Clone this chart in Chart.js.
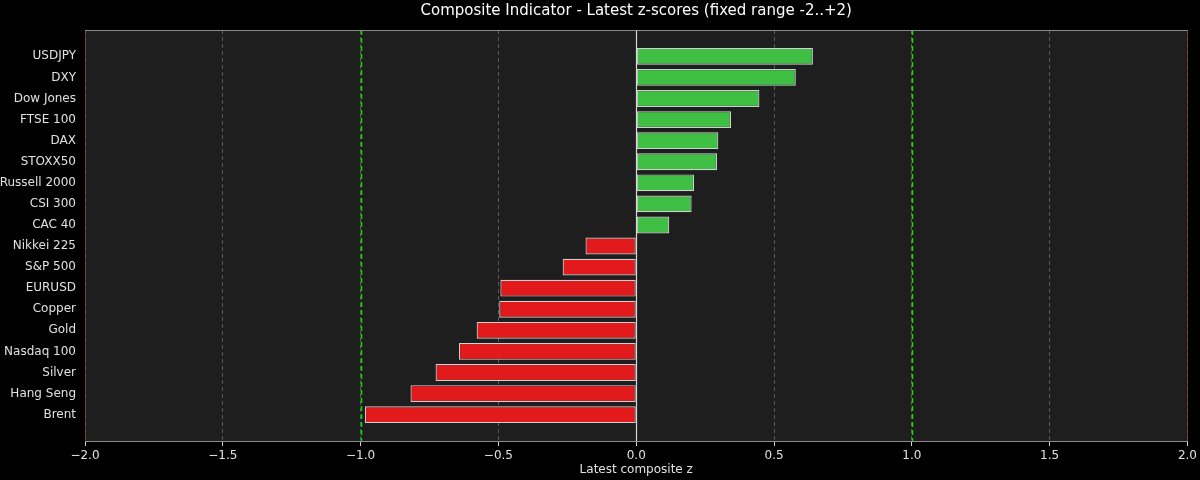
<!DOCTYPE html>
<html>
<head>
<meta charset="utf-8">
<script src="https://cdn.jsdelivr.net/npm/chart.js@4.4.1/dist/chart.umd.min.js"></script>
<style>
  html, body { margin: 0; padding: 0; background: #000; }
  #wrap { width: 1200px; height: 480px; }
</style>
</head>
<body>
<div id="wrap"><canvas id="chart" width="1200" height="480"></canvas></div>
<script>
const categories = ["USDJPY", "DXY", "Dow Jones", "FTSE 100", "DAX", "STOXX50", "Russell 2000", "CSI 300", "CAC 40",
  "Nikkei 225", "S&P 500", "EURUSD", "Copper", "Gold", "Nasdaq 100", "Silver", "Hang Seng", "Brent"];
const zScores = [0.641, 0.579, 0.447, 0.344, 0.298, 0.293, 0.21, 0.201, 0.12,
  -0.184, -0.267, -0.493, -0.497, -0.579, -0.643, -0.728, -0.819, -0.984];
const xTicks = [-2, -1.5, -1, -0.5, 0, 0.5, 1, 1.5, 2];
const bandLines = [-1, 1];
const chartTitle = "Composite Indicator - Latest z-scores (fixed range -2..+2)";

const FONT = "'DejaVu Sans', sans-serif";

const backdrop = {
  id: "backdrop",
  beforeDraw(chart) {
    const { ctx, chartArea: a } = chart;
    ctx.save();
    ctx.fillStyle = "#000";
    ctx.fillRect(0, 0, chart.width, chart.height);
    ctx.fillStyle = "#1e1e1e";
    ctx.fillRect(a.left, a.top, a.right - a.left, a.bottom - a.top);
    ctx.restore();
  },
  afterDraw(chart) {
    const { ctx, chartArea: a, scales } = chart;
    const x = scales.x;
    ctx.save();
    // threshold lines
    ctx.strokeStyle = "#00e000";
    ctx.lineWidth = 1.5;
    ctx.setLineDash([5, 3]);
    bandLines.forEach((v) => {
      const px = Math.round(x.getPixelForValue(v)) + 0.5;
      ctx.beginPath();
      ctx.moveTo(px, a.top);
      ctx.lineTo(px, a.bottom);
      ctx.stroke();
    });
    // zero line
    ctx.setLineDash([]);
    ctx.strokeStyle = "#d8d8d8";
    ctx.lineWidth = 1.2;
    const z = Math.round(x.getPixelForValue(0)) + 0.5;
    ctx.beginPath();
    ctx.moveTo(z, a.top);
    ctx.lineTo(z, a.bottom);
    ctx.stroke();
    // frame
    ctx.lineWidth = 1;
    ctx.strokeStyle = "rgba(150,60,60,0.7)";
    [a.left, a.right].forEach((px) => {
      ctx.beginPath();
      ctx.moveTo(Math.round(px) + 0.5, a.top);
      ctx.lineTo(Math.round(px) + 0.5, a.bottom);
      ctx.stroke();
    });
    ctx.strokeStyle = "#8c8c8c";
    [a.top, a.bottom].forEach((py) => {
      ctx.beginPath();
      ctx.moveTo(a.left, Math.round(py) + 0.5);
      ctx.lineTo(a.right, Math.round(py) + 0.5);
      ctx.stroke();
    });
    // title centred over the plot area
    ctx.fillStyle = "#ffffff";
    ctx.font = "15px " + FONT;
    ctx.textAlign = "center";
    ctx.textBaseline = "middle";
    ctx.fillText(chartTitle, (a.left + a.right) / 2, 11);
    ctx.restore();
  },
};

new Chart(document.getElementById("chart"), {
  type: "bar",
  data: {
    datasets: [
      {
        data: zScores.map((v, i) => ({ x: v, y: i })),
        backgroundColor: (c) => (zScores[c.dataIndex] >= 0 ? "#3fbf44" : "#e31a1c"),
        borderColor: "rgba(240,240,240,0.85)",
        borderWidth: 1.2,
        borderSkipped: false,
        barPercentage: 0.8,
        categoryPercentage: 1,
      },
    ],
  },
  options: {
    indexAxis: "y",
    responsive: false,
    animation: false,
    layout: { padding: { left: 0, right: 12, top: 30, bottom: 0 } },
    plugins: {
      legend: { display: false },
      tooltip: { enabled: false },
      title: { display: false },
    },
    scales: {
      x: {
        type: "linear",
        min: -2,
        max: 2,
        z: 1,
        afterBuildTicks: (s) => { s.ticks = xTicks.map((v) => ({ value: v })); },
        afterFit: (s) => { s.height = 39; },
        ticks: {
          color: "#e0e0e0",
          font: { family: FONT, size: 12 },
          padding: 3,
          maxRotation: 0,
          callback: (v) => (v < 0 ? "\u2212" : "") + Math.abs(v).toFixed(1),
        },
        grid: {
          color: "rgba(130,130,130,0.6)",
          lineWidth: 1,
          tickLength: 5,
          tickColor: "#cfcfcf",
          tickBorderDash: [],
        },
        border: { display: false, dash: [4, 3] },
        title: {
          display: true,
          text: "Latest composite z",
          color: "#e0e0e0",
          font: { family: FONT, size: 12 },
          padding: { top: 0, bottom: 3 },
        },
      },
      y: {
        type: "linear",
        reverse: true,
        offset: false,
        min: -1.25,
        max: 18.25,
        afterBuildTicks: (s) => { s.ticks = categories.map((c, i) => ({ value: i })); },
        afterFit: (s) => { s.width = 85; },
        ticks: {
          color: "#e0e0e0",
          font: { family: FONT, size: 12 },
          padding: 9,
          callback: (v) => categories[v],
        },
        grid: { display: false, drawTicks: false },
        border: { display: false },
      },
    },
  },
  plugins: [backdrop],
});
</script>
</body>
</html>
